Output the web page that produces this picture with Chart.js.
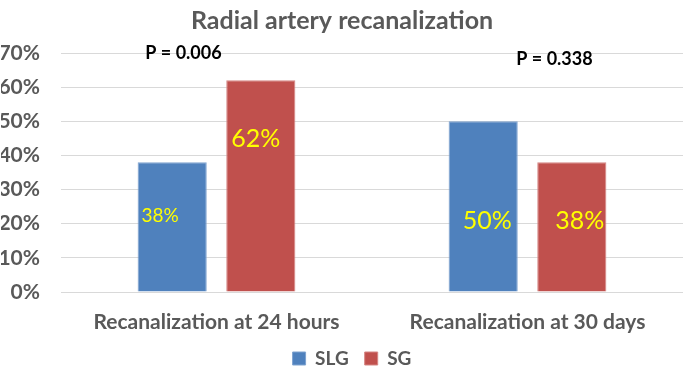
<!DOCTYPE html>
<html>
<head>
<meta charset="utf-8">
<script src="https://cdn.jsdelivr.net/npm/chart.js@4/dist/chart.umd.min.js"></script>
<style>
body{margin:0;background:#fff;}
#wrap{width:685px;height:366px;position:relative;}
</style>
</head>
<body>
<div id="wrap"><canvas id="chartRecan"></canvas></div>
<script>
// data
const categories = ['Recanalization at 24 hours', 'Recanalization at 30 days'];
const slgValues = [38, 50];
const sgValues = [62, 38];
const pValues = ['P = 0.006', 'P = 0.338'];
const yTicks = [0, 10, 20, 30, 40, 50, 60, 70];

const grey = '#595959';
const fontFam = 'Lato, "Open Sans", sans-serif';

// label placement per dataset / bar (offset in px from bar centre, y in axis units, font size)
const labelPos = [
  [{dx: -12, y: 22.4, size: 19}, {dx: 4, y: 20.9, size: 25}],
  [{dx: -5, y: 44.7, size: 25}, {dx: 8, y: 20.9, size: 25}]
];
const pPos = [{dx: -33, y: 70}, {dx: 27, y: 68.3}];

const barLabelsK = {
  id: 'barLabelsK',
  afterLayout(chart) {
    // push the legend a bit lower/right, like the original, and let the x labels overhang
    chart.legend.top += 12;
    chart.legend.bottom += 12;
    chart.legend.left += 10;
    chart.legend.right += 10;
    chart.scales.x.bottom += 20;
  },
  afterDatasetsDraw(chart) {
    const ctx = chart.ctx;
    const ys = chart.scales.y, xs = chart.scales.x;
    ctx.save();
    ctx.textAlign = 'center';
    ctx.textBaseline = 'middle';
    chart.data.datasets.forEach((ds, di) => {
      chart.getDatasetMeta(di).data.forEach((bar, i) => {
        const p = labelPos[di][i];
        ctx.font = p.size + 'px ' + fontFam;
        ctx.fillStyle = '#FFFF00';
        ctx.fillText(ds.data[i] + '%', bar.x + p.dx, ys.getPixelForValue(p.y));
      });
    });
    ctx.font = 'bold 18px ' + fontFam;
    ctx.fillStyle = '#000';
    pValues.forEach((t, i) => {
      ctx.fillText(t, xs.getPixelForValue(i) + pPos[i].dx, ys.getPixelForValue(pPos[i].y));
    });
    ctx.restore();
  }
};

const chartRecan = new Chart(document.getElementById('chartRecan'), {
  type: 'bar',
  data: {
    labels: categories,
    datasets: [
      {label: 'SLG', data: slgValues, backgroundColor: '#4F81BD', borderColor: '#7FA3D0', borderWidth: 1},
      {label: 'SG', data: sgValues, backgroundColor: '#C0504D', borderColor: '#D58583', borderWidth: 1}
    ]
  },
  options: {
    animation: false,
    responsive: true,
    maintainAspectRatio: false,
    layout: {padding: {left: 1, right: 2, top: 0, bottom: 0}},
    datasets: {bar: {categoryPercentage: 0.57, barPercentage: 0.78}},
    scales: {
      x: {
        afterFit: (s) => { s.height = 29; },
        grid: {display: false, drawTicks: false},
        border: {display: false},
        ticks: {color: grey, font: {family: fontFam, size: 21, weight: 'bold'}, padding: 18}
      },
      y: {
        min: 0, max: 70,
        afterBuildTicks: (s) => { s.ticks = yTicks.map(v => ({value: v})); },
        afterFit: (s) => { s.width = 60; },
        grid: {color: '#D9D9D9', drawTicks: false},
        border: {display: false},
        ticks: {color: grey, padding: 21, font: {family: fontFam, size: 21, weight: 'bold'}, callback: v => v + '%'}
      }
    },
    plugins: {
      title: {display: true, text: 'Radial artery recanalization', color: grey,
        font: {family: fontFam, size: 25, weight: 'bold'}, padding: {top: 6, bottom: 17}},
      legend: {position: 'bottom',
        labels: {color: grey, boxWidth: 13, boxHeight: 13, padding: 16,
          font: {family: fontFam, size: 19, weight: 'bold'}}},
      tooltip: {enabled: false}
    }
  },
  plugins: [barLabelsK]
});
</script>
</body>
</html>
